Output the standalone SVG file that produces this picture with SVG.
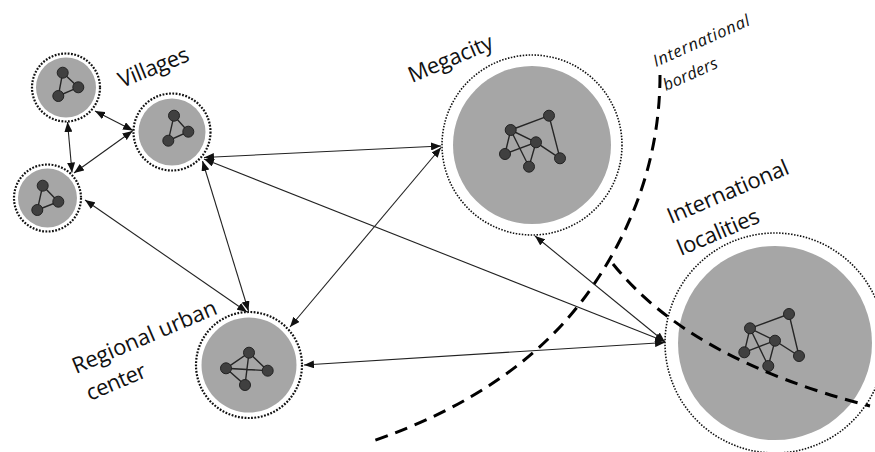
<svg xmlns="http://www.w3.org/2000/svg" width="875" height="452" viewBox="0 0 875 452">
<defs>
<marker id="ah" viewBox="0 0 10 8" refX="10" refY="4" markerWidth="10" markerHeight="8" markerUnits="userSpaceOnUse" orient="auto-start-reverse">
<path d="M0,0 L10,4 L0,8 z" fill="#111"/>
</marker>
<style>
.ring{fill:#fff;stroke:#111;stroke-width:2.2;stroke-dasharray:1.8 1.5}
.ringb{fill:#fff;stroke:#111;stroke-width:1.6;stroke-dasharray:1.5 1.5}
.core{fill:#a6a6a6}
.n{fill:#404040;stroke:#222;stroke-width:1}
.e{stroke:#262626;stroke-width:1.4;fill:none}
.c{stroke:#222;stroke-width:1.1;fill:none;marker-start:url(#ah);marker-end:url(#ah)}
.b{stroke:#000;stroke-width:3;fill:none;stroke-dasharray:13 8}
.lbl{font-family:"Open Sans","Noto Sans","Liberation Sans",sans-serif;font-size:22px;fill:#111}
.lbs{font-family:"Open Sans","Noto Sans","Liberation Sans",sans-serif;font-size:16.5px;font-style:italic;fill:#111}
</style>
</defs>
<rect width="875" height="452" fill="#fff"/>

<g id="village1">
<circle class="ring" cx="66" cy="87.5" r="34"/>
<circle class="core" cx="66" cy="87.5" r="30"/>
<path class="e" d="M62.7,72.7 L58.3,96 L78.3,87.3 Z"/>
<circle class="n" cx="62.7" cy="72.7" r="5.5"/>
<circle class="n" cx="78.3" cy="87.3" r="5.5"/>
<circle class="n" cx="58.3" cy="96" r="5.5"/>
</g>

<g id="village2">
<circle class="ring" cx="172" cy="132" r="38.5"/>
<circle class="core" cx="172" cy="132" r="33.5"/>
<path class="e" d="M174,115.7 L168.3,140.7 L188.3,131.7 Z"/>
<circle class="n" cx="174" cy="115.7" r="5.5"/>
<circle class="n" cx="188.3" cy="131.7" r="5.5"/>
<circle class="n" cx="168.3" cy="140.7" r="5.5"/>
</g>

<g id="village3">
<circle class="ring" cx="47.5" cy="198" r="33.5"/>
<circle class="core" cx="47.5" cy="198" r="29.5"/>
<path class="e" d="M42.7,185.7 L37.3,210 L58.3,201.7 Z"/>
<circle class="n" cx="42.7" cy="185.7" r="5.5"/>
<circle class="n" cx="58.3" cy="201.7" r="5.5"/>
<circle class="n" cx="37.3" cy="210" r="5.5"/>
</g>

<g id="regional">
<circle class="ring" cx="249" cy="365" r="53"/>
<circle class="core" cx="249" cy="365" r="47.5"/>
<path class="e" d="M226,368.3 L249,352.7 L267.7,370.7 Z M249,352.7 L245,385 L226,368.3"/>
<circle class="n" cx="249" cy="352.7" r="5.5"/>
<circle class="n" cx="226" cy="368.3" r="5.5"/>
<circle class="n" cx="267.7" cy="370.7" r="5.5"/>
<circle class="n" cx="245" cy="385" r="5.5"/>
</g>

<g id="megacity">
<circle class="ringb" cx="532" cy="145" r="90"/>
<circle class="core" cx="532" cy="145" r="79"/>
<path class="e" d="M510.7,130 L549,115.7 L560,158.3 L536,142.3 L505,154 L510.7,130 L529,166.7 L536,142.3 L510.7,130"/>
<circle class="n" cx="510.7" cy="130" r="5.5"/>
<circle class="n" cx="549" cy="115.7" r="5.5"/>
<circle class="n" cx="536" cy="142.3" r="5.5"/>
<circle class="n" cx="505" cy="154" r="5.5"/>
<circle class="n" cx="529" cy="166.7" r="5.5"/>
<circle class="n" cx="560" cy="158.3" r="5.5"/>
</g>

<g id="international">
<circle class="ringb" cx="775" cy="343" r="110"/>
<circle class="core" cx="775" cy="343" r="97"/>
<path class="e" d="M750,328.3 L789,314 L799,356 L775,340.7 L744.3,352.3 L750,328.3 L768.3,366 L775,340.7 L750,328.3"/>
<circle class="n" cx="750" cy="328.3" r="5.5"/>
<circle class="n" cx="789" cy="314" r="5.5"/>
<circle class="n" cx="775" cy="340.7" r="5.5"/>
<circle class="n" cx="744.3" cy="352.3" r="5.5"/>
<circle class="n" cx="768.3" cy="366" r="5.5"/>
<circle class="n" cx="799" cy="356" r="5.5"/>
</g>

<g id="borders">
<path class="b" d="M660,75 Q660,190 590,290 T373,441"/>
<path class="b" d="M613,264 Q690,360 870,406"/>
</g>

<g id="connectors">
<line class="c" x1="67.5" y1="122" x2="72" y2="172.5"/>
<line class="c" x1="95" y1="111" x2="133" y2="130.5"/>
<line class="c" x1="74" y1="173" x2="132.5" y2="131"/>
<line class="c" x1="85" y1="200" x2="247" y2="312"/>
<line class="c" x1="202.5" y1="161" x2="248.5" y2="311"/>
<line class="c" x1="204" y1="157.5" x2="441" y2="146"/>
<line class="c" x1="204" y1="159" x2="665" y2="341.5"/>
<line class="c" x1="441" y1="147.5" x2="290" y2="327"/>
<line class="c" x1="535" y1="236" x2="665" y2="342"/>
<line class="c" x1="304" y1="365" x2="665" y2="342.5"/>
</g>

<g id="labels">
<text class="lbl" transform="translate(122,88) rotate(-22)" textLength="74">Villages</text>
<text class="lbl" transform="translate(412,83) rotate(-23)" textLength="90">Megacity</text>
<text class="lbl" transform="translate(671,224) rotate(-23)" textLength="130">International</text>
<text class="lbl" transform="translate(681,256) rotate(-23)" textLength="87">localities</text>
<text class="lbl" transform="translate(76,374) rotate(-23)" textLength="155">Regional urban</text>
<text class="lbl" transform="translate(90,401) rotate(-23)" textLength="63">center</text>
<text class="lbs" transform="translate(656,67) rotate(-24)" textLength="104">International</text>
<text class="lbs" transform="translate(666,91) rotate(-24)" textLength="58">borders</text>
</g>
</svg>
